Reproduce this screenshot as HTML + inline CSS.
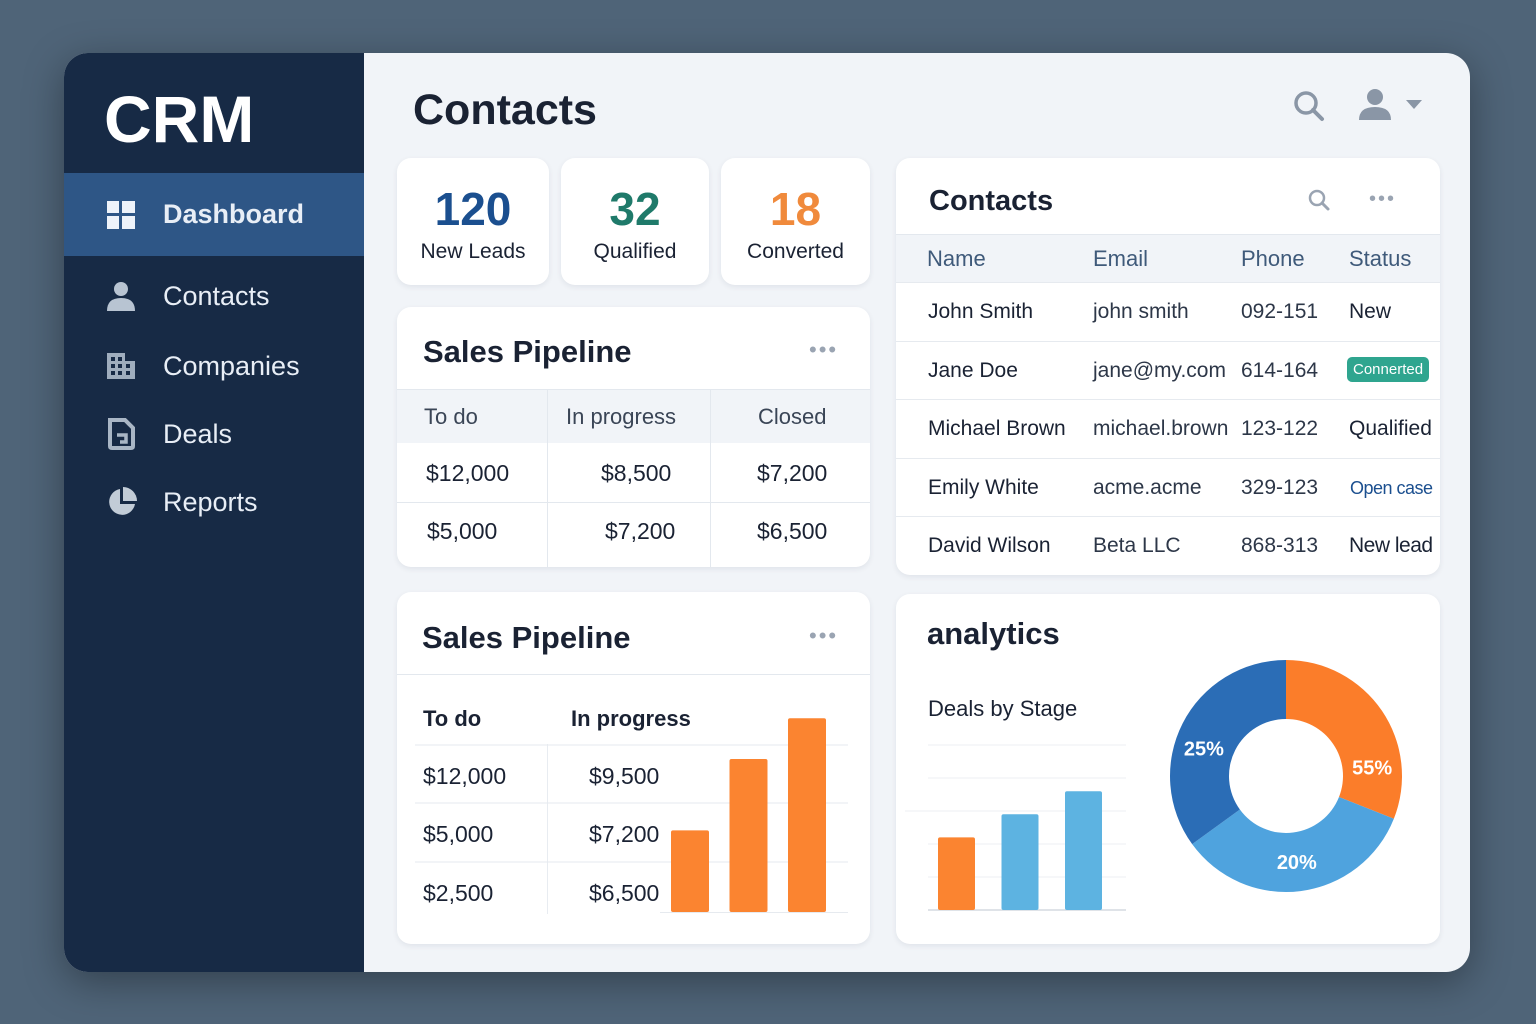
<!DOCTYPE html>
<html><head><meta charset="utf-8"><style>
*{box-sizing:border-box;margin:0;padding:0}
body{width:1536px;height:1024px;background:#4f6478;font-family:"Liberation Sans",sans-serif;position:relative;overflow:hidden;color:#1a2233}
.abs{position:absolute}
#app{left:64px;top:53px;width:1406px;height:919px;border-radius:24px;background:#f1f4f8;overflow:hidden;box-shadow:0 10px 40px rgba(0,0,0,.35)}
#side{left:0;top:0;width:300px;height:919px;background:#172a45}
.nav{position:absolute;left:0;width:300px;height:70px;color:#e8eef6;font-size:27px;display:flex;align-items:center;padding-left:99px}
.card{position:absolute;background:#fff;border-radius:14px;box-shadow:0 2px 6px rgba(20,40,70,.08)}
.t{position:absolute;white-space:nowrap}
#rows span{white-space:nowrap}
.ico{position:absolute;left:43px}
</style></head><body>
<div id="app" class="abs">
 <div id="side" class="abs">
  <div class="t" style="left:40px;top:28px;font-size:66px;font-weight:bold;color:#fff">CRM</div>
  <div class="nav" style="top:120px;height:83px;background:#2e5686;font-weight:bold">
   <svg class="ico" width="28" height="28" viewBox="0 0 28 28"><rect x="0" y="0" width="12" height="12" fill="#eef3fa"/><rect x="15" y="0" width="13" height="12" fill="#eef3fa"/><rect x="0" y="15" width="12" height="13" fill="#eef3fa"/><rect x="15" y="15" width="13" height="13" fill="#eef3fa"/></svg>Dashboard</div>
  <div class="nav" style="top:208px">
   <svg class="ico" width="28" height="30" viewBox="0 0 28 30"><circle cx="14" cy="8" r="7" fill="#b8c4d2"/><path d="M0 30 Q0 17 14 17 Q28 17 28 30Z" fill="#b8c4d2"/></svg>Contacts</div>
  <div class="nav" style="top:278px">
   <svg class="ico" width="28" height="26" viewBox="0 0 28 26"><path d="M0 0H18V8H28V26H0Z" fill="#9fadbd"/><g fill="#172a45"><rect x="4" y="4" width="4" height="4"/><rect x="11" y="4" width="4" height="4"/><rect x="4" y="11" width="4" height="4"/><rect x="11" y="11" width="4" height="4"/><rect x="19" y="11" width="4" height="4"/><rect x="4" y="18" width="4" height="4"/><rect x="11" y="18" width="4" height="4"/><rect x="19" y="18" width="4" height="4"/></g></svg>Companies</div>
  <div class="nav" style="top:346px">
   <svg class="ico" width="28" height="32" viewBox="0 0 28 32"><path d="M3 2H18L26 10V28Q26 30 24 30H5Q3 30 3 28Z" fill="none" stroke="#a9b6c5" stroke-width="4"/><path d="M10 17H19V24H13" fill="none" stroke="#a9b6c5" stroke-width="3.5"/></svg>Deals</div>
  <div class="nav" style="top:414px">
   <svg class="ico" width="30" height="30" viewBox="0 0 30 30"><path d="M13 2A13 13 0 1 0 28 17H13Z" fill="#c2ccd7"/><path d="M16 0A14 14 0 0 1 30 14H16Z" fill="#c2ccd7"/></svg>Reports</div>
 </div>
</div>

<div class="t" style="left:413px;top:86px;font-size:43px;font-weight:bold;color:#1a2233">Contacts</div>
<svg class="abs" style="left:1293px;top:90px" width="32" height="32" viewBox="0 0 32 32"><circle cx="13" cy="13" r="10" fill="none" stroke="#8a96a6" stroke-width="3.5"/><line x1="20" y1="20" x2="29" y2="29" stroke="#8a96a6" stroke-width="4" stroke-linecap="round"/></svg>
<svg class="abs" style="left:1358px;top:88px" width="70" height="34" viewBox="0 0 70 34"><circle cx="17" cy="9" r="8" fill="#8a96a6"/><path d="M1 32Q1 19 17 19Q33 19 33 32Z" fill="#8a96a6"/><path d="M48 12H64L56 21Z" fill="#8a96a6"/></svg>

<!-- stat cards -->
<div class="card" style="left:397px;top:158px;width:152px;height:127px">
 <div class="t" style="left:0;width:152px;text-align:center;top:24px;font-size:46px;font-weight:bold;color:#1b4f8f">120</div>
 <div class="t" style="left:0;width:152px;text-align:center;top:82px;font-size:21px">New Leads</div></div>
<div class="card" style="left:561px;top:158px;width:148px;height:127px">
 <div class="t" style="left:0;width:148px;text-align:center;top:24px;font-size:46px;font-weight:bold;color:#1f7a6a">32</div>
 <div class="t" style="left:0;width:148px;text-align:center;top:82px;font-size:21px">Qualified</div></div>
<div class="card" style="left:721px;top:158px;width:149px;height:127px">
 <div class="t" style="left:0;width:149px;text-align:center;top:24px;font-size:46px;font-weight:bold;color:#f08a3c">18</div>
 <div class="t" style="left:0;width:149px;text-align:center;top:82px;font-size:21px">Converted</div></div>

<!-- pipeline table -->
<div class="card" style="left:397px;top:307px;width:473px;height:260px;overflow:hidden">
 <div class="t" style="left:26px;top:27px;font-size:31px;font-weight:bold">Sales Pipeline</div>
 <div class="t" style="left:412px;top:30px;font-size:22px;color:#9aa4b2;letter-spacing:2px">•••</div>
 <div class="abs" style="left:0;top:82px;width:473px;height:54px;background:#f1f4f8;border-top:1px solid #e3e8ee"></div>
 <div class="abs" style="left:150px;top:82px;width:1px;height:178px;background:#e3e8ee"></div>
 <div class="abs" style="left:313px;top:82px;width:1px;height:178px;background:#e3e8ee"></div>
 <div class="abs" style="left:0;top:195px;width:473px;height:1px;background:#e3e8ee"></div>
 <div class="t" style="left:27px;top:97px;font-size:22px;color:#3a4556">To do</div>
 <div class="t" style="left:169px;top:97px;font-size:22px;color:#3a4556">In progress</div>
 <div class="t" style="left:361px;top:97px;font-size:22px;color:#3a4556">Closed</div>
 <div class="t" style="left:29px;top:153px;font-size:23px">$12,000</div>
 <div class="t" style="left:204px;top:153px;font-size:23px">$8,500</div>
 <div class="t" style="left:360px;top:153px;font-size:23px">$7,200</div>
 <div class="t" style="left:30px;top:211px;font-size:23px">$5,000</div>
 <div class="t" style="left:208px;top:211px;font-size:23px">$7,200</div>
 <div class="t" style="left:360px;top:211px;font-size:23px">$6,500</div>
</div>

<!-- contacts table -->
<div class="card" style="left:896px;top:158px;width:544px;height:417px;overflow:hidden">
 <div class="t" style="left:33px;top:27px;font-size:29px;font-weight:bold">Contacts</div>
 <svg class="abs" style="left:411px;top:30px" width="24" height="24" viewBox="0 0 24 24"><circle cx="10" cy="10" r="7" fill="none" stroke="#9aa4b2" stroke-width="2.5"/><line x1="15" y1="15" x2="21" y2="21" stroke="#9aa4b2" stroke-width="3" stroke-linecap="round"/></svg>
 <div class="t" style="left:473px;top:30px;font-size:20px;color:#9aa4b2;letter-spacing:2px">•••</div>
 <div class="abs" style="left:0;top:76px;width:544px;height:48px;background:#f1f4f8;border-top:1px solid #e3e8ee"></div>
 <div class="t" style="left:31px;top:88px;font-size:22px;color:#3f5a7a">Name</div>
 <div class="t" style="left:197px;top:88px;font-size:22px;color:#3f5a7a">Email</div>
 <div class="t" style="left:345px;top:88px;font-size:22px;color:#3f5a7a">Phone</div>
 <div class="t" style="left:453px;top:88px;font-size:22px;color:#3f5a7a">Status</div>
 <div id="rows"></div>
</div>

<!-- pipeline chart -->
<div class="card" style="left:397px;top:592px;width:473px;height:352px;overflow:hidden">
 <div class="t" style="left:25px;top:28px;font-size:31px;font-weight:bold">Sales Pipeline</div>
 <div class="t" style="left:412px;top:31px;font-size:22px;color:#9aa4b2;letter-spacing:2px">•••</div>
 <div class="abs" style="left:0;top:82px;width:473px;height:1px;background:#e3e8ee"></div>
 <div class="t" style="left:26px;top:114px;font-size:22px;font-weight:bold;color:#1a2233">To do</div>
 <div class="t" style="left:174px;top:114px;font-size:22px;font-weight:bold;color:#1a2233">In progress</div>
 <div class="abs" style="left:150px;top:152px;width:1px;height:170px;background:#e8ecf1"></div>
 <div class="t" style="left:26px;top:171px;font-size:23px">$12,000</div><div class="t" style="left:192px;top:171px;font-size:23px">$9,500</div>
 <div class="t" style="left:26px;top:229px;font-size:23px">$5,000</div><div class="t" style="left:192px;top:229px;font-size:23px">$7,200</div>
 <div class="t" style="left:26px;top:288px;font-size:23px">$2,500</div><div class="t" style="left:192px;top:288px;font-size:23px">$6,500</div>
</div>
<svg class="abs" id="bar1" style="left:0;top:0;pointer-events:none" width="1536" height="1024"></svg>

<!-- analytics -->
<div class="card" style="left:896px;top:594px;width:544px;height:350px">
 <div class="t" style="left:31px;top:22px;font-size:31px;font-weight:bold">analytics</div>
 <div class="t" style="left:32px;top:102px;font-size:22px">Deals by Stage</div>
</div>
<svg class="abs" id="ana" style="left:0;top:0;pointer-events:none" width="1536" height="1024"></svg>

<script>
const contactNames=["John Smith","Jane Doe","Michael Brown","Emily White","David Wilson"];
const contactEmails=["john smith","jane@my.com","michael.brown","acme.acme","Beta LLC"];
const contactPhones=["092-151","614-164","123-122","329-123","868-313"];
const contactStatus=["New","Connerted","Qualified","Open case","New lead"];
const pipeCategories=["A","B","C"];
const pipeValues=[4.0,7.5,9.5];
const stageCategories=["Lead","Qualified","Won"];
const stageValues=[2.2,2.9,3.6];
const stageGrid=[0,1,2,3,4,5];
const donutLabels=["55%","20%","25%"];
const donutValues=[31,34,35];
const NS="http://www.w3.org/2000/svg";
function mk(p,tag,a){const e=document.createElementNS(NS,tag);for(const k in a)e.setAttribute(k,a[k]);p.appendChild(e);return e;}

const rows=document.getElementById('rows');
contactNames.forEach((n,i)=>{
 const top=124+i*58.6;
 const r=document.createElement('div');
 
 
 r.style.cssText=`position:absolute;left:0;top:${top}px;width:544px;height:59px;border-top:1px solid #e6eaef;font-size:21px;color:#1a2233`;
 const st=contactStatus[i];
 let stHtml=`<span style="position:absolute;left:453px;top:17px">${st}</span>`;
 if(i===1) stHtml=`<span style="position:absolute;left:451px;top:15px;background:#2fa58f;color:#fff;font-size:15px;padding:4px 6px;border-radius:5px">${st}</span>`;
 if(i===3) stHtml=`<span style="position:absolute;left:454px;top:19px;color:#1b4f8f;font-size:18px;letter-spacing:-0.5px">${st}</span>`;
 if(i===4) stHtml=`<span style="position:absolute;left:453px;top:17px;letter-spacing:-0.5px">${st}</span>`;
 r.innerHTML=`<span style="position:absolute;left:32px;top:17px">${n}</span><span style="position:absolute;left:197px;top:17px;color:#2d3748">${contactEmails[i]}</span><span style="position:absolute;left:345px;top:17px;color:#2d3748">${contactPhones[i]}</span>`+stHtml;
 rows.appendChild(r);
});

const b1=document.getElementById('bar1');
const y1=v=>912-v*20.4;
[745,803,862].forEach(y=>{const l=mk(b1,'line',{x1:415,x2:848,y1:y,y2:y,stroke:'#e6eaef','stroke-width':1});});
mk(b1,'line',{x1:660,x2:848,y1:912.5,y2:912.5,stroke:'#e6eaef'});
pipeValues.forEach((v,i)=>{
 const x=671+i*58.5;
 const r=mk(b1,'rect',{x:x,y:y1(v),width:38,height:912-y1(v),rx:2,fill:'#fb8430'});
 
 
});

const a=document.getElementById('ana');
const y2=v=>910-v*33;
stageGrid.forEach(g=>{const l=mk(a,'line',{x1:g===3?905:928,x2:1126,y1:y2(g),y2:y2(g),stroke:g===0?'#dfe3e8':'#eceff3','stroke-width':g===0?2:1});});
stageValues.forEach((v,i)=>{
 const x=938+i*63.5;
 const r=mk(a,'rect',{x:x,y:y2(v),width:37,height:910-y2(v),rx:2,fill:i===0?'#fb8430':'#5db3e1'});
 
 
});

const cx=1286,cy=776,R=116,r0=57;
const colors=['#fb7d2a','#4fa3de','#2b6db6'];
const total=donutValues.reduce((s,v)=>s+v,0);
let ang=0;
function pt(rad,t){return [cx+rad*Math.sin(t),cy-rad*Math.cos(t)];}
donutValues.forEach((v,i)=>{
 const a0=ang/total*2*Math.PI, a1=(ang+v)/total*2*Math.PI; ang+=v;
 const [x0,y0]=pt(R,a0),[x1,y1_]=pt(R,a1),[x2,y2_]=pt(r0,a1),[x3,y3]=pt(r0,a0);
 const lg=(a1-a0)>Math.PI?1:0;
 const p=mk(a,'path',{d:`M${x0} ${y0}A${R} ${R} 0 ${lg} 1 ${x1} ${y1_}L${x2} ${y2_}A${r0} ${r0} 0 ${lg} 0 ${x3} ${y3}Z`,fill:colors[i]});
 
 
 const [lx,ly]=pt((R+r0)/2,(a0+a1)/2+(i===0?0.5:i===2?-0.15:0));
 const t=mk(a,'text',{x:lx,y:ly+7,'text-anchor':'middle','font-size':20,'font-weight':'bold',fill:'#fff','font-family':'Liberation Sans, sans-serif'});
 t.textContent=donutLabels[i];
 
 
});
</script>
</body></html>
